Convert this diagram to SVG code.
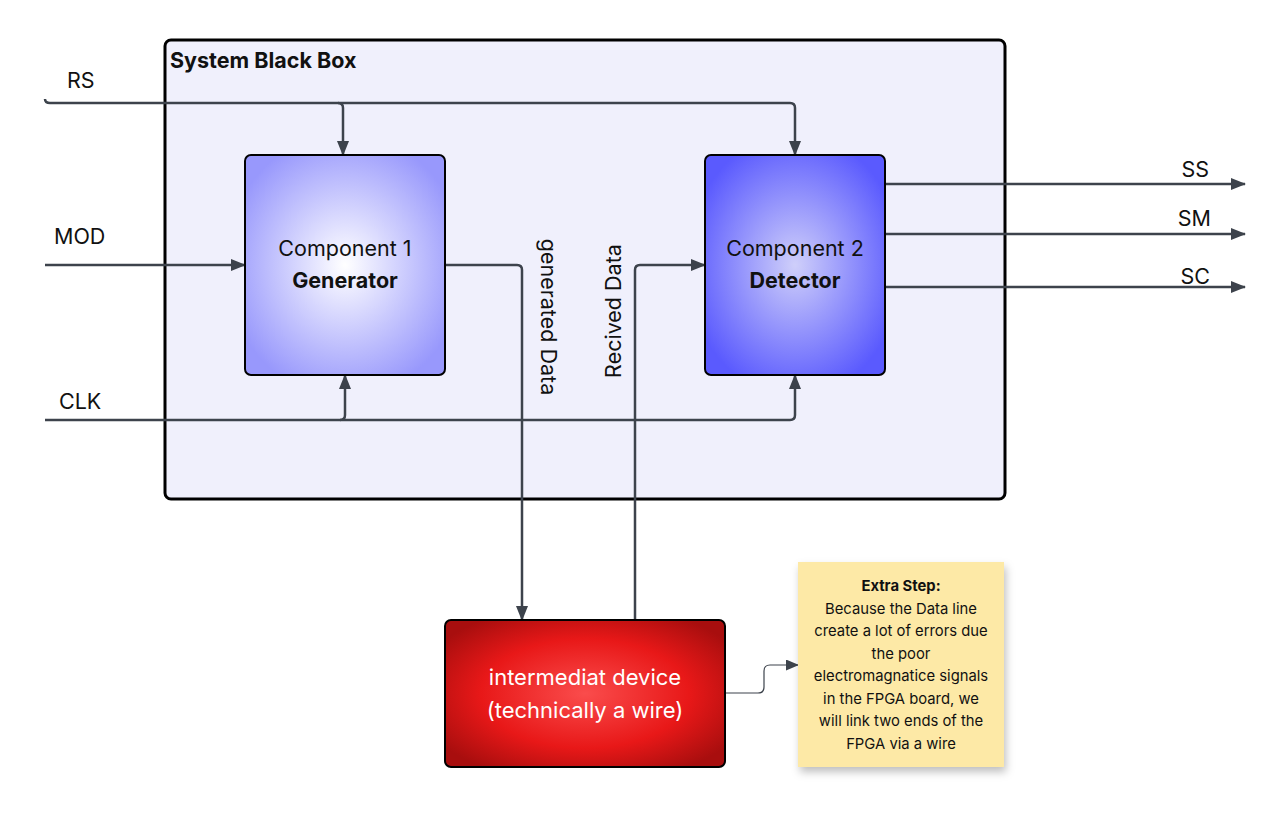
<svg xmlns="http://www.w3.org/2000/svg" width="1280" height="832" viewBox="0 0 1280 832">
<defs>
<radialGradient id="g1" cx="50%" cy="50%" r="60%"><stop offset="0" stop-color="#ffffff"/><stop offset="1" stop-color="#9898fc"/></radialGradient>
<radialGradient id="g2" cx="50%" cy="50%" r="60%"><stop offset="0" stop-color="#cfcffa"/><stop offset="1" stop-color="#5a5afe"/></radialGradient>
<radialGradient id="g3" cx="50%" cy="50%" r="62%"><stop offset="0" stop-color="#fa4c4c"/><stop offset="0.6" stop-color="#e81818"/><stop offset="1" stop-color="#a80e0e"/></radialGradient>
<filter id="sh" x="-20%" y="-20%" width="140%" height="140%"><feDropShadow dx="2" dy="5" stdDeviation="4" flood-color="#000" flood-opacity="0.25"/></filter>
<marker id="ar" markerWidth="15" markerHeight="12" refX="14" refY="6" orient="auto" markerUnits="userSpaceOnUse"><path d="M0,0 L15,6 L0,12 Z" fill="#3d434c"/></marker>
<marker id="ar2" markerWidth="13" markerHeight="11" refX="12" refY="5.5" orient="auto" markerUnits="userSpaceOnUse"><path d="M0,0 L13,5.5 L0,11 Z" fill="#3d434c"/></marker>
</defs>
<style>
text{font-family:Inter,"Noto Sans","Liberation Sans",sans-serif;fill:#111}
.w{stroke:#3d434c;stroke-width:2.5;fill:none}
.lbl{font-size:21.5px}
.nd{font-size:21.5px;text-anchor:middle}
.b{font-weight:bold}
.note{font-size:14.8px;text-anchor:middle}
</style>
<rect width="1280" height="832" fill="#ffffff"/>
<g id="blackbox">
<rect x="165" y="40" width="840" height="459" rx="6" fill="#f0f0fc" stroke="#000" stroke-width="3"/>
<text x="170" y="68" font-size="21.5" class="b">System Black Box</text>
</g>
<g id="connectors">
<path class="w" d="M45,99 Q45,103 50,103 L338,103 Q343,103 343,108 L343,155" marker-end="url(#ar)"/>
<path class="w" d="M338,103 L790,103 Q795,103 795,108 L795,155" marker-end="url(#ar)"/>
<path class="w" d="M45,265 L245,265" marker-end="url(#ar)"/>
<path class="w" d="M45,420 L340,420 Q345,420 345,415 L345,375" marker-end="url(#ar)"/>
<path class="w" d="M340,420 L790,420 Q795,420 795,415 L795,375" marker-end="url(#ar)"/>
<path class="w" d="M445,265 L517,265 Q522,265 522,270 L522,620" marker-end="url(#ar)"/>
<path class="w" d="M635,620 L635,270 Q635,265 640,265 L705,265" marker-end="url(#ar)"/>
<path class="w" d="M885,184 L1245,184" marker-end="url(#ar)"/>
<path class="w" d="M885,234 L1245,234" marker-end="url(#ar)"/>
<path class="w" d="M885,287 L1245,287" marker-end="url(#ar)"/>
<path d="M725,693 L758,693 Q764,693 764,687 L764,671 Q764,665 770,665 L798,665" fill="none" stroke="#3d434c" stroke-width="1.2" marker-end="url(#ar2)"/>
<text x="67" y="88" class="lbl">RS</text>
<text x="54" y="244" class="lbl">MOD</text>
<text x="59" y="409" class="lbl">CLK</text>
<text x="1209" y="177" class="lbl" text-anchor="end">SS</text>
<text x="1211" y="226" class="lbl" text-anchor="end">SM</text>
<text x="1210" y="284" class="lbl" text-anchor="end">SC</text>
<text class="lbl" text-anchor="middle" transform="translate(541,317) rotate(90)">generated Data</text>
<text class="lbl" text-anchor="middle" transform="translate(621,311) rotate(-90)">Recived Data</text>
</g>
<g id="component1">
<rect x="245" y="155" width="200" height="220" rx="6" fill="url(#g1)" stroke="#000" stroke-width="2"/>
<text x="345" y="256" class="nd">Component 1</text>
<text x="345" y="288" class="nd b">Generator</text>
</g>
<g id="component2">
<rect x="705" y="155" width="180" height="220" rx="6" fill="url(#g2)" stroke="#000" stroke-width="2"/>
<text x="795" y="256" class="nd">Component 2</text>
<text x="795" y="288" class="nd b">Detector</text>
</g>
<g id="intermediate">
<rect x="445" y="620" width="280" height="147" rx="6" fill="url(#g3)" stroke="#000" stroke-width="2"/>
<text x="585" y="685" class="nd" style="fill:#fff;font-size:22px">intermediat device</text>
<text x="585" y="718" class="nd" style="fill:#fff;font-size:22px">(technically a wire)</text>
</g>
<g id="note">
<rect x="798" y="562" width="206" height="205" fill="#fde9a6" filter="url(#sh)"/>
<text x="901" y="591" class="note b">Extra Step:</text>
<text x="901" y="614" class="note">Because the Data line</text>
<text x="901" y="636" class="note">create a lot of errors due</text>
<text x="901" y="659" class="note">the poor</text>
<text x="901" y="681" class="note">electromagnatice signals</text>
<text x="901" y="704" class="note">in the FPGA board, we</text>
<text x="901" y="726" class="note">will link two ends of the</text>
<text x="901" y="749" class="note">FPGA via a wire</text>
</g>
</svg>
